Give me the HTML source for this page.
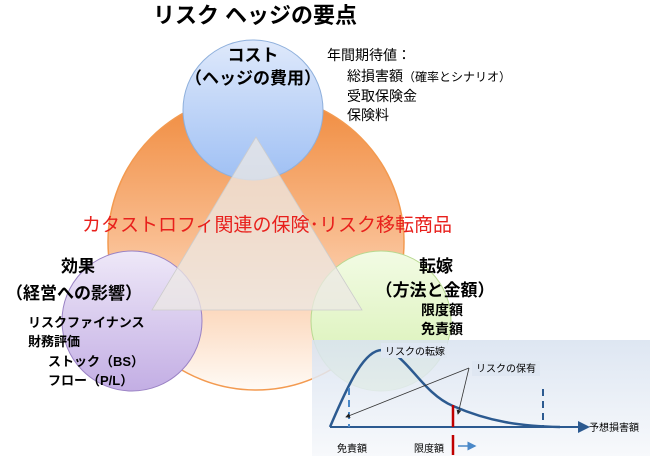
<!DOCTYPE html>
<html><head><meta charset="utf-8"><style>
html,body{margin:0;padding:0;background:#fff;}
svg{display:block;font-family:"Liberation Sans","Noto Sans CJK JP",sans-serif;}
</style></head><body>
<svg width="650" height="459" viewBox="0 0 650 459" xmlns="http://www.w3.org/2000/svg">
<defs>
<linearGradient id="og" x1="0" y1="0" x2="0" y2="1">
<stop offset="0" stop-color="#f08a3c"/><stop offset="0.5" stop-color="#f9bd90"/><stop offset="1" stop-color="#fffaf5"/></linearGradient>
<linearGradient id="bg" x1="0" y1="0" x2="0" y2="1">
<stop offset="0" stop-color="#dfe9fb"/><stop offset="1" stop-color="#9fc0f4"/></linearGradient>
<linearGradient id="pg" x1="0" y1="0" x2="0" y2="1">
<stop offset="0" stop-color="#eee8f8"/><stop offset="1" stop-color="#c3aee4"/></linearGradient>
<linearGradient id="gg" x1="0" y1="0" x2="0" y2="1">
<stop offset="0" stop-color="#f2fbe4"/><stop offset="1" stop-color="#d6f0b0"/></linearGradient>
<linearGradient id="cg" x1="0" y1="0" x2="0" y2="1">
<stop offset="0" stop-color="#d8e2f0"/><stop offset="1" stop-color="#f6f8fb"/></linearGradient>
<marker id="ah" markerWidth="6" markerHeight="6" refX="5" refY="3" orient="auto"><path d="M0,0 L6,3 L0,6z" fill="#222"/></marker>
<marker id="bh" markerWidth="6" markerHeight="6" refX="5" refY="3" orient="auto"><path d="M0,0 L6,3 L0,6z" fill="#2c5a90"/></marker>
<marker id="lh" markerWidth="6" markerHeight="6" refX="5" refY="3" orient="auto"><path d="M0,0 L6,3 L0,6z" fill="#4a88c8"/></marker>
</defs>
<text x="255" y="23" font-size="22" font-weight="bold" text-anchor="middle">リスク ヘッジの要点</text>
<circle cx="256" cy="242" r="148" fill="url(#og)" stroke="#f39a50" stroke-width="1.5"/>
<circle cx="253" cy="110" r="70" fill="url(#bg)" stroke="#8fb0dc" stroke-width="1"/>
<circle cx="132" cy="321" r="70" fill="url(#pg)" stroke="#9a82c4" stroke-width="1"/>
<circle cx="381" cy="321" r="70" fill="url(#gg)" stroke="#b8d890" stroke-width="1"/>
<polygon points="256,137 152,310 362,310" fill="#ece8e4" fill-opacity="0.75" stroke="#ccc" stroke-width="0.8"/>
<text x="253" y="61" font-size="17" font-weight="bold" text-anchor="middle">コスト</text>
<text x="253" y="84" font-size="17" font-weight="bold" text-anchor="middle">（ヘッジの費用）</text>
<g font-size="14">
<text x="327" y="60">年間期待値：</text>
<text x="347" y="81">総損害額<tspan font-size="12">（確率とシナリオ）</tspan></text>
<text x="347" y="101">受取保険金</text>
<text x="347" y="120">保険料</text>
</g>
<text x="267" y="231" font-size="19" fill="#e8201c" text-anchor="middle">カタストロフィ関連の保険･リスク移転商品</text>
<text x="78" y="272" font-size="17" font-weight="bold" text-anchor="middle">効果</text>
<text x="74" y="299" font-size="17" font-weight="bold" text-anchor="middle">（経営への影響）</text>
<g font-size="13" font-weight="bold">
<text x="28" y="327">リスクファイナンス</text>
<text x="28" y="346">財務評価</text>
<text x="48" y="366">ストック（BS）</text>
<text x="48" y="385">フロー（P/L）</text>
</g>
<text x="436" y="272" font-size="17" font-weight="bold" text-anchor="middle">転嫁</text>
<text x="435" y="296" font-size="17" font-weight="bold" text-anchor="middle">（方法と金額）</text>
<text x="421" y="315" font-size="14" font-weight="bold">限度額</text>
<text x="421" y="334" font-size="14" font-weight="bold">免責額</text>
<rect x="312" y="340" width="338" height="116" fill="url(#cg)" fill-opacity="0.85"/>
<line x1="330" y1="427" x2="588" y2="427" stroke="#2c5a90" stroke-width="2" marker-end="url(#bh)"/>
<path d="M330,427 C350,380 365,350 382,350 C405,350 420,392 453,406 C490,422 520,426 560,427" fill="none" stroke="#2c5a90" stroke-width="2.5"/>
<line x1="349" y1="388" x2="349" y2="427" stroke="#4a88c8" stroke-width="2" stroke-dasharray="7,5"/>
<line x1="543" y1="389" x2="543" y2="427" stroke="#2c5a90" stroke-width="2" stroke-dasharray="7,5"/>
<line x1="453" y1="405" x2="453" y2="427" stroke="#c00000" stroke-width="2.5"/>
<line x1="453" y1="435" x2="453" y2="455" stroke="#c00000" stroke-width="2.5"/>
<line x1="458" y1="446" x2="475" y2="446" stroke="#4a88c8" stroke-width="1.5" marker-end="url(#lh)"/>
<rect x="381" y="343" width="66" height="15" fill="#dfe7f2"/>
<text x="385" y="355" font-size="10">リスクの転嫁</text>
<rect x="472" y="361" width="68" height="15" fill="#dfe7f2"/>
<text x="476" y="372" font-size="10">リスクの保有</text>
<line x1="469" y1="368" x2="346" y2="417" stroke="#333" stroke-width="0.8" marker-end="url(#ah)"/>
<line x1="469" y1="368" x2="458" y2="414" stroke="#333" stroke-width="0.8" marker-end="url(#ah)"/>
<text x="589" y="431" font-size="10">予想損害額</text>
<text x="337" y="452" font-size="10">免責額</text>
<text x="414" y="452" font-size="10">限度額</text>
</svg>
</body></html>
